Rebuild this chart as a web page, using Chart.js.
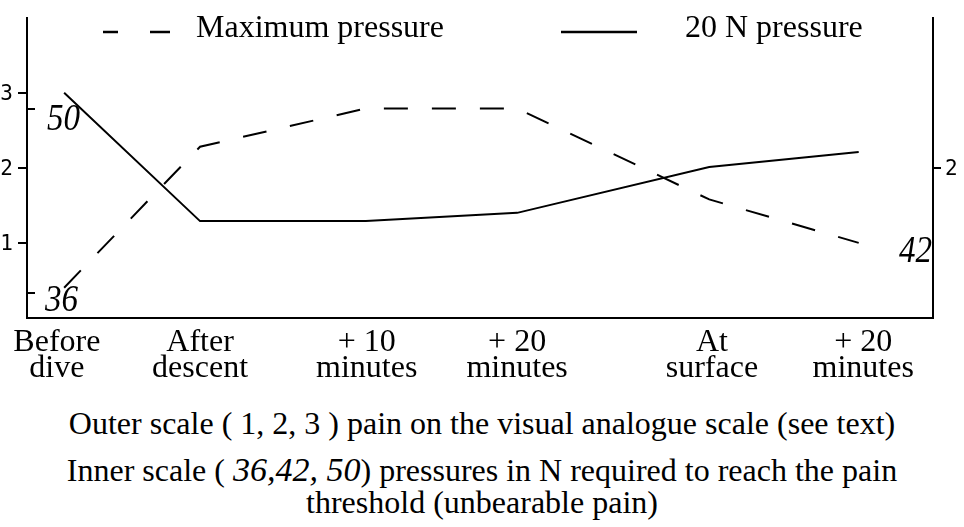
<!DOCTYPE html>
<html>
<head>
<meta charset="utf-8">
<script src="https://cdn.jsdelivr.net/npm/chart.js@4/dist/chart.umd.min.js"></script>
<style>
  body { margin: 0; background: #fff; }
  #wrap { position: relative; width: 964px; height: 527px; overflow: hidden; }
  #chartBox { position: absolute; left: 0; top: 0; width: 964px; height: 390px; }
  .cap { position: absolute; left: 0; width: 964px; text-align: center;
         font-family: "Liberation Serif", serif; font-size: 32px; color: #000; line-height: 32px; }
  .cap i { font-size: 34px; }
</style>
</head>
<body>
<div id="wrap">
  <div id="chartBox"><canvas id="painChart" width="964" height="390"></canvas></div>
  <div class="cap" style="top:407px">Outer scale ( 1, 2, 3 ) pain on the visual analogue scale (see text)</div>
  <div class="cap" style="top:454px">Inner scale ( <i>36,42, 50</i>) pressures in N required to reach the pain<br>threshold (unbearable pain)</div>
</div>
<script>
// time points along the x axis (position in arbitrary units 0-100)
const timeLabels = [['Before', 'dive'], ['After', 'descent'], ['+ 10', 'minutes'], ['+ 20', 'minutes'], ['At', 'surface'], ['+ 20', 'minutes']];
const timePos = [4.1, 19.1, 37.4, 54.1, 75.3, 91.8];
const labelPos = [3.3, 19.1, 37.5, 54.1, 75.6, 92.3];

// outer scale: pain on visual analogue scale (20 N pressure)
const pain20N = [3.0, 1.29, 1.29, 1.40, 2.01, 2.21];
// inner scale: maximum pressure in N
const maxPressure = [36.4, 47.1, 50.0, 50.0, 43.1, 39.8];

const outerTicks = [1, 2, 3];
const rightTicks = [2];
const innerTicks = [36, 50];
const endLabel = '42';

const serif = '"Liberation Serif", serif';
const mono = '"DejaVu Sans Mono", monospace';

// narrow italic numbers drawn next to the inner scale
function italicNum(ctx, text, x, y, align) {
    ctx.save();
    ctx.font = 'italic 38px ' + serif;
    ctx.textBaseline = 'middle';
    ctx.textAlign = align;
    ctx.translate(x, y);
    ctx.scale(0.87, 1);
    ctx.fillText(text, 0, 0);
    ctx.restore();
}

// inner ticks, italic numbers and the legend
const extras = {
    id: 'extras',
    afterDatasetsDraw(chart) {
        const ctx = chart.ctx;
        const area = chart.chartArea;
        const yN = chart.scales.yN;
        ctx.save();
        ctx.strokeStyle = '#000';
        ctx.fillStyle = '#000';
        ctx.lineWidth = 2;

        // inner ticks pointing into the plot
        innerTicks.forEach(v => {
            const y = Math.round(yN.getPixelForValue(v));
            ctx.beginPath();
            ctx.moveTo(area.left, y);
            ctx.lineTo(area.left + 8, y);
            ctx.stroke();
        });

        italicNum(ctx, String(innerTicks[1]), area.left + 20, yN.getPixelForValue(innerTicks[1]) + 12, 'left');
        italicNum(ctx, String(innerTicks[0]), area.left + 18, yN.getPixelForValue(innerTicks[0]) + 8, 'left');
        const lastY = yN.getPixelForValue(maxPressure[maxPressure.length - 1]);
        italicNum(ctx, endLabel, area.right - 1, lastY + 9, 'right');

        // legend
        const ly = 32;
        ctx.lineWidth = 2.5;
        ctx.setLineDash([15, 32, 20, 200]);
        ctx.beginPath();
        ctx.moveTo(103, ly);
        ctx.lineTo(170, ly);
        ctx.stroke();
        ctx.setLineDash([]);
        ctx.beginPath();
        ctx.moveTo(561, ly);
        ctx.lineTo(637, ly);
        ctx.stroke();
        ctx.font = '32px ' + serif;
        ctx.textAlign = 'left';
        ctx.textBaseline = 'middle';
        ctx.fillText(chart.data.datasets[0].label, 196, ly - 3);
        ctx.fillText(chart.data.datasets[1].label, 685, ly - 3);
        ctx.restore();
    }
};

const tickFont = { family: mono, size: 21 };

new Chart(document.getElementById('painChart'), {
    type: 'line',
    data: {
        datasets: [
            {
                label: 'Maximum pressure',
                data: timePos.map((x, i) => ({ x: x, y: maxPressure[i] })),
                yAxisID: 'yN',
                borderColor: '#000',
                borderWidth: 2,
                borderDash: [24, 24],
                pointRadius: 0,
                tension: 0,
                fill: false
            },
            {
                label: '20 N pressure',
                data: timePos.map((x, i) => ({ x: x, y: pain20N[i] })),
                yAxisID: 'y',
                borderColor: '#000',
                borderWidth: 2,
                pointRadius: 0,
                tension: 0,
                fill: false
            }
        ]
    },
    options: {
        responsive: false,
        animation: false,
        layout: { padding: { top: 15, left: 0, right: 0, bottom: 0 } },
        plugins: { legend: { display: false }, tooltip: { enabled: false } },
        scales: {
            x: {
                type: 'linear',
                min: 0,
                max: 100,
                afterBuildTicks: s => { s.ticks = labelPos.map(v => ({ value: v })); },
                afterFit: s => { s.height = 72; },
                ticks: {
                    autoSkip: false,
                    maxRotation: 0,
                    padding: 11,
                    color: '#000',
                    font: { family: serif, size: 32, lineHeight: 0.82 },
                    callback: (v, i) => timeLabels[i]
                },
                grid: { display: true, drawOnChartArea: false, drawTicks: false, color: 'rgba(0,0,0,0)' },
                border: { display: true, color: '#000', width: 2 }
            },
            y: {
                position: 'left',
                min: 0,
                max: 4,
                afterBuildTicks: s => { s.ticks = outerTicks.map(v => ({ value: v })); },
                afterFit: s => { s.width = 27; },
                ticks: {
                    color: '#000', padding: 5, labelOffset: 2, font: tickFont,
                    callback: v => String(v)
                },
                grid: { drawOnChartArea: false, drawTicks: true, tickLength: 9, color: '#000', lineWidth: 2 },
                border: { display: true, color: '#000', width: 2 }
            },
            y1: {
                position: 'right',
                min: 0,
                max: 4,
                afterBuildTicks: s => { s.ticks = rightTicks.map(v => ({ value: v })); },
                afterFit: s => { s.width = 31; },
                ticks: {
                    color: '#000', padding: 4, labelOffset: 2, font: tickFont,
                    callback: v => String(v)
                },
                grid: { drawOnChartArea: false, drawTicks: true, tickLength: 8, color: '#000', lineWidth: 2 },
                border: { display: true, color: '#000', width: 2 }
            },
            yN: {
                display: false,
                min: 34.1,
                max: 56.9
            }
        }
    },
    plugins: [extras]
});
</script>
</body>
</html>
